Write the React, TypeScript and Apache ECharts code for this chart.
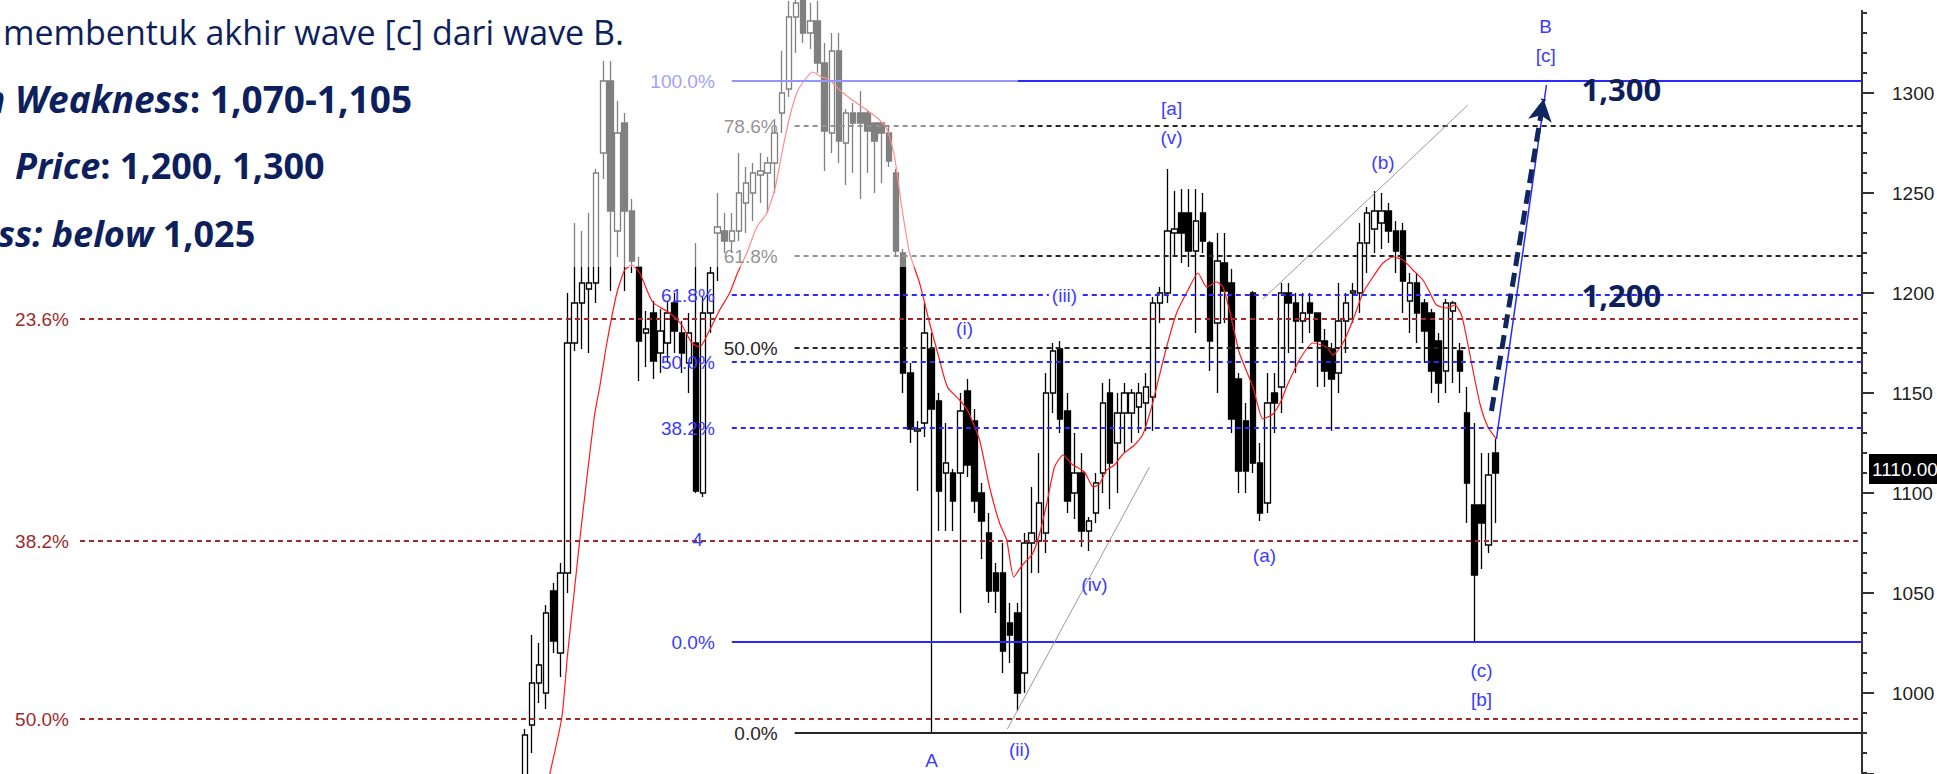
import React, { useEffect, useRef } from "react";
import * as echarts from "echarts";

// ---------- DATA ----------
// candles: [open, close, low, high], one per bar
const candles: number[][] = [
  [955, 979, 945, 982], [984, 1005, 970, 1029], [1005, 1014, 995, 1025], [1000, 1040, 992, 1044],
  [1051, 1026, 1020, 1055], [1020, 1060, 1008, 1065], [1060, 1175, 1050, 1200], [1175, 1195, 1171, 1235],
  [1195, 1205, 1172, 1231], [1202, 1205, 1170, 1240], [1205, 1260, 1195, 1262], [1270, 1306, 1257, 1316],
  [1306, 1241, 1201, 1316], [1231, 1280, 1218, 1296], [1285, 1241, 1201, 1290], [1241, 1216, 1210, 1247],
  [1213, 1176, 1156, 1218], [1180, 1182, 1163, 1191], [1190, 1166, 1157, 1196], [1170, 1181, 1160, 1192],
  [1175, 1190, 1165, 1196], [1195, 1181, 1170, 1200], [1180, 1170, 1160, 1186], [1165, 1180, 1150, 1190],
  [1175, 1101, 1100, 1225], [1100, 1190, 1098, 1198], [1190, 1210, 1180, 1213], [1230, 1233, 1206, 1250],
  [1231, 1226, 1220, 1240], [1226, 1231, 1220, 1240], [1231, 1250, 1226, 1270], [1245, 1255, 1230, 1263],
  [1250, 1260, 1236, 1265], [1259, 1261, 1245, 1270], [1260, 1265, 1240, 1268], [1265, 1280, 1250, 1287],
  [1290, 1300, 1280, 1321], [1302, 1338, 1298, 1346], [1338, 1345, 1320, 1350], [1352, 1330, 1325, 1355],
  [1330, 1336, 1322, 1345], [1336, 1315, 1310, 1346], [1315, 1281, 1261, 1325], [1280, 1321, 1270, 1330],
  [1321, 1276, 1265, 1330], [1275, 1290, 1254, 1292], [1290, 1285, 1260, 1295], [1290, 1285, 1247, 1301],
  [1290, 1281, 1260, 1291], [1285, 1276, 1250, 1285], [1285, 1280, 1255, 1285], [1280, 1266, 1263, 1283],
  [1260, 1221, 1218, 1262], [1220, 1160, 1150, 1222], [1160, 1132, 1125, 1165], [1131, 1132, 1101, 1136],
  [1135, 1180, 1128, 1195], [1172, 1142, 980, 1180], [1146, 1101, 1081, 1150], [1110, 1115, 1081, 1135],
  [1110, 1096, 1081, 1112], [1110, 1141, 1040, 1150], [1151, 1114, 1108, 1157], [1136, 1096, 1090, 1142],
  [1100, 1086, 1067, 1105], [1080, 1051, 1045, 1090], [1060, 1051, 1040, 1065], [1060, 1021, 1010, 1075],
  [1035, 1029, 1015, 1045], [1040, 1000, 991, 1045], [1010, 1075, 1000, 1080], [1075, 1080, 1060, 1103],
  [1076, 1095, 1060, 1120], [1080, 1150, 1070, 1160], [1150, 1171, 1140, 1175], [1172, 1137, 1130, 1176],
  [1141, 1096, 1090, 1150], [1100, 1110, 1087, 1130], [1110, 1081, 1073, 1120], [1081, 1086, 1071, 1088],
  [1090, 1105, 1085, 1110], [1110, 1145, 1100, 1155], [1150, 1115, 1092, 1157], [1125, 1140, 1100, 1150],
  [1140, 1150, 1120, 1155], [1140, 1150, 1125, 1152], [1143, 1150, 1130, 1155], [1145, 1153, 1131, 1160],
  [1148, 1195, 1131, 1198], [1195, 1200, 1185, 1203], [1200, 1231, 1195, 1262], [1230, 1232, 1218, 1251],
  [1240, 1230, 1215, 1252], [1240, 1221, 1213, 1252], [1221, 1236, 1180, 1252], [1240, 1226, 1220, 1250],
  [1225, 1176, 1161, 1226], [1185, 1216, 1150, 1230], [1215, 1201, 1185, 1230], [1205, 1137, 1130, 1212],
  [1157, 1111, 1100, 1160], [1136, 1111, 1100, 1145], [1200, 1115, 1110, 1201], [1115, 1090, 1086, 1125],
  [1095, 1145, 1090, 1160], [1150, 1145, 1130, 1160], [1153, 1200, 1140, 1205], [1200, 1195, 1170, 1205],
  [1195, 1186, 1160, 1200], [1186, 1190, 1175, 1200], [1195, 1190, 1180, 1200], [1190, 1176, 1153, 1190],
  [1176, 1161, 1153, 1182], [1172, 1157, 1131, 1175], [1160, 1186, 1150, 1205], [1186, 1195, 1170, 1200],
  [1200, 1201, 1185, 1205], [1200, 1225, 1190, 1235], [1225, 1240, 1210, 1243], [1232, 1241, 1220, 1251],
  [1235, 1241, 1222, 1250], [1241, 1231, 1225, 1245], [1231, 1221, 1210, 1236], [1231, 1206, 1190, 1235],
  [1196, 1205, 1180, 1210], [1205, 1190, 1175, 1210], [1195, 1181, 1165, 1197], [1190, 1161, 1150, 1192],
  [1176, 1155, 1145, 1180], [1161, 1195, 1150, 1197], [1191, 1195, 1155, 1196], [1171, 1161, 1150, 1175],
  [1140, 1105, 1085, 1153], [1094, 1059, 1025, 1135], [1094, 1085, 1062, 1120], [1074, 1109, 1070, 1120],
  [1120, 1110, 1085, 1127],
];

// moving average (red), read as [bar position, value]
const maPoints: number[][] = [
  [3.5, 959.5], [5.2, 988], [6.0, 1019.5], [7.0, 1053], [7.7, 1076.5], [8.8, 1110.5], [9.8, 1139.5],
  [10.5, 1153], [11.5, 1175], [12.9, 1200], [14.0, 1211.5], [15.0, 1214], [16.1, 1210], [17.9, 1195.5],
  [20.3, 1190], [22.0, 1184], [23.4, 1175], [24.5, 1173], [25.9, 1181.5], [27.3, 1191.5], [28.7, 1200],
  [29.8, 1210], [31.1, 1220], [32.5, 1233], [33.9, 1240], [35.0, 1251.5], [36.1, 1271.5], [37.1, 1288],
  [38.1, 1300], [39.2, 1306.5], [40.3, 1310.5], [41.6, 1308], [42.7, 1306.5], [44.1, 1301.5], [45.5, 1297.5],
  [47.9, 1291.5], [49.7, 1286.5], [50.8, 1281.5], [51.8, 1268], [52.8, 1243], [53.9, 1220], [55.3, 1205],
  [56.7, 1185], [58.1, 1166.5], [59.2, 1153], [60.9, 1146.5], [62.0, 1141.5], [63.7, 1126.5], [65.1, 1103],
  [66.5, 1085], [67.5, 1076.5], [68.5, 1058], [69.7, 1064], [71.1, 1069.5], [72.1, 1079.5], [73.1, 1094.5],
  [74.2, 1113], [75.4, 1119], [76.6, 1114.5], [78.4, 1110.5], [79.6, 1103], [80.5, 1104.5], [81.5, 1111.5],
  [82.6, 1114], [83.8, 1119.5], [85.4, 1124], [86.6, 1129.5], [87.8, 1143], [88.5, 1153], [89.9, 1173],
  [91.3, 1190], [92.9, 1201.5], [94.3, 1210], [95.5, 1203], [96.9, 1205.5], [97.8, 1203], [98.7, 1191.5],
  [100.1, 1170], [102.0, 1153], [103.4, 1137], [104.8, 1139.5], [106.0, 1146.5], [106.7, 1153], [108.5, 1166.5],
  [110.4, 1175], [112.3, 1173], [113.2, 1169], [114.6, 1175], [116.0, 1186.5], [117.4, 1200], [118.8, 1208],
  [120.2, 1215], [121.6, 1218], [123.0, 1216.5], [124.4, 1211.5], [125.8, 1206.5], [126.8, 1200], [127.7, 1194],
  [129.1, 1192.5], [130.3, 1194], [131.2, 1189], [131.9, 1178], [132.8, 1161.5], [133.8, 1144.5], [134.9, 1133],
  [136.1, 1127],
];

// Fibonacci levels
const blueFibValues = [1306, 1199, 1165.5, 1132.5, 1025.5];
const blueFibLabels = ["100.0%", "61.8%", "50.0%", "38.2%", "0.0%"];
const blueFibSolid = [true, false, false, false, true];
const blueFibStart = 29;

const blackFibValues = [1283.5, 1218.5, 1172.5, 980];
const blackFibLabels = ["78.6%", "61.8%", "50.0%", "0.0%"];
const blackFibSolid = [false, false, false, true];
const blackFibStart = 37.8;

const redFibValues = [1187, 1076, 987];
const redFibLabels = ["23.6%", "38.2%", "50.0%"];
const redFibStart = -62.3;

// wave labels
const waveNames = ["B", "[c]", "[a]", "(v)", "(b)", "(iii)", "(i)", "4", "(iv)", "(a)", "(c)", "[b]", "A", "(ii)"];
const wavePoints: number[][] = [
  [143, 1333.5], [143, 1319], [90.6, 1292.5], [90.6, 1278], [120.2, 1265.5], [75.6, 1199], [61.6, 1182.5],
  [24.2, 1077], [79.8, 1054.5], [103.6, 1069], [134, 1011.5], [134, 997], [57, 966.5], [69.3, 972],
];

// trend channel lines
const trendLines: number[][][] = [
  [[67.6, 982], [87.5, 1113]],
  [[103.4, 1197], [132.1, 1294]],
];
// projected path to wave B
const waveLine: number[][] = [[136.1, 1127], [143.1, 1304]];
const projectionArrow: number[][] = [[135.4, 1141], [142.7, 1297]];

// targets written on the chart
const targetNames = ["1,300", "1,200"];
const targetPoints: number[][] = [[153.6, 1302], [153.6, 1199]];

const lastClose = 1110;
const lastCloseText = "1110.000";

// ---------- LAYOUT / STYLE ----------
const X_MIN = -73.5;
const X_MAX = 187.3;
const Y_MIN = 959.5;
const Y_MAX = 1346.5;
const navy = "#0d1f5c";
const chartFont = '"Liberation Sans", Arial, sans-serif';
const blue = "#2a2aff";
const blueText = "#3c3cff";
const darkRed = "#a02a2a";
const black = "#262626";

function fibLines(values: number[], labels: string[], solid: boolean[] | null, start: number, color: string, labelColor: string, dist: number) {
  return values.map((v, k) => [
    {
      coord: [start, v],
      lineStyle: { color, width: 2, type: solid && solid[k] ? "solid" : [5, 4] },
      label: {
        show: true, position: "start", distance: dist, formatter: labels[k],
        color: labelColor, fontFamily: chartFont, fontSize: 19,
      },
    },
    { coord: [X_MAX, v] },
  ]);
}

const boldRich = (size: number) => ({
  i: { fill: navy, fontFamily: "Open Sans", fontSize: size, fontWeight: "bold", fontStyle: "italic" },
  b: { fill: navy, fontFamily: "Open Sans", fontSize: size, fontWeight: "bold" },
});

export default function App() {
  const ref = useRef<HTMLDivElement>(null);
  useEffect(() => {
    document.body.style.margin = "0";
    const chart = echarts.init(ref.current!, null, { renderer: "svg" });

    const markLineData: any[] = [
      ...fibLines(redFibValues, redFibLabels, null, redFibStart, darkRed, darkRed, 11),
      ...fibLines(blackFibValues, blackFibLabels, blackFibSolid, blackFibStart, black, black, 17),
      ...fibLines(blueFibValues, blueFibLabels, blueFibSolid, blueFibStart, blue, blueText, 17),
      ...trendLines.map((t) => [
        { coord: t[0], lineStyle: { color: "#9a9a9a", width: 1, type: "solid" }, label: { show: false } },
        { coord: t[1] },
      ]),
      [
        { coord: waveLine[0], lineStyle: { color: blue, width: 1.5, type: "solid" }, label: { show: false } },
        { coord: waveLine[1] },
      ],
      [
        {
          coord: projectionArrow[0], symbol: "none",
          lineStyle: { color: "#10265e", width: 5, type: [14, 7] }, label: { show: false },
        },
        { coord: projectionArrow[1], symbol: "arrow", symbolSize: [18, 22] },
      ],
    ];

    const markPointData: any[] = [
      ...waveNames.map((n, k) => ({
        name: n,
        coord: wavePoints[k],
        label: {
          show: true, position: "inside", formatter: n, color: blueText, fontFamily: chartFont, fontSize: 19,
          backgroundColor: n === "(iii)" || n === "(a)" ? "#fff" : "transparent",
          padding: n === "(a)" ? [6, 3, 0, 3] : [0, 3],
        },
      })),
      ...targetNames.map((n, k) => ({
        name: n,
        coord: targetPoints[k],
        label: {
          show: true, position: "inside", formatter: n, color: navy,
          fontFamily: "Open Sans", fontWeight: "bold", fontSize: 31,
        },
      })),
    ];

    const graphics: any[] = [
      {
        type: "rect", z: 50, silent: true,
        shape: { x: 560, y: 0, width: 458, height: 267 },
        style: { fill: "rgba(255,255,255,0.5)" },
      },
      {
        type: "rect", z: 60, silent: true,
        shape: { x: 1850, y: 0, width: 30, height: 10 },
        style: { fill: "#fff" },
      },
      {
        type: "text", z: 100, x: 3, y: 32,
        style: {
          text: "membentuk akhir wave [c] dari wave B.",
          fill: navy, fontFamily: "Open Sans", fontSize: 34, verticalAlign: "middle",
        },
      },
      {
        type: "text", z: 100, x: -17, y: 98,
        style: { text: "{i|n Weakness}{b|: 1,070-1,105}", verticalAlign: "middle", rich: boldRich(37) },
      },
      {
        type: "text", z: 100, x: 15, y: 165,
        style: { text: "{i|Price}{b|: 1,200, 1,300}", verticalAlign: "middle", rich: boldRich(36) },
      },
      {
        type: "text", z: 100, x: -2, y: 233,
        style: { text: "{i|ss: below}{b| 1,025}", verticalAlign: "middle", rich: boldRich(36) },
      },
    ];

    const option: any = {
      animation: false,
      backgroundColor: "#fff",
      grid: { left: 0, right: 75, top: 0, bottom: 0, containLabel: false, outerBoundsMode: "none" },
      xAxis: { type: "value", min: X_MIN, max: X_MAX, show: false },
      yAxis: {
        type: "value", position: "right", min: Y_MIN, max: Y_MAX, splitNumber: 8,
        minInterval: 50, maxInterval: 50,
        axisLine: { show: true, onZero: false, lineStyle: { color: "#333", width: 2 } },
        axisTick: { show: true, inside: false, length: 12, lineStyle: { color: "#333", width: 2 } },
        minorTick: { show: true, splitNumber: 5, length: 5, lineStyle: { color: "#333", width: 2 } },
        splitLine: { show: false },
        axisLabel: {
          show: true, margin: 30, color: "#222", fontFamily: chartFont, fontSize: 19,
          showMinLabel: false, showMaxLabel: false,
          formatter: (v: number) => String(v),
        },
      },
      series: [
        {
          type: "candlestick",
          data: candles.map((c, i) => [i, c[0], c[1], c[2], c[3]]),
          encode: { x: 0, y: [1, 2, 3, 4] },
          barWidth: 6,
          itemStyle: {
            color: "#ffffff", color0: "#000000",
            borderColor: "#000000", borderColor0: "#000000", borderColorDoji: "#000000",
            borderWidth: 1.3,
          },
          z: 2,
        },
        {
          type: "line",
          data: maPoints,
          symbol: "none",
          smooth: 0.2,
          lineStyle: { color: "#ff1a1a", width: 1.2 },
          z: 3,
        },
        {
          type: "line",
          data: [],
          z: 4,
          markLine: { silent: true, symbol: ["none", "none"], animation: false, data: markLineData },
          markPoint: {
            silent: true, symbol: "rect", symbolSize: 1, animation: false,
            itemStyle: { color: "rgba(0,0,0,0)" },
            data: markPointData,
          },
        },
      ],
      graphic: graphics,
    };
    chart.setOption(option);

    // last-price tag on the price axis, placed through the axis scale
    const yTag = chart.convertToPixel({ yAxisIndex: 0 }, lastClose) as number;
    const axisRight = 1937 - 75;
    chart.setOption({
      graphic: [
        ...graphics,
        {
          type: "rect", z: 70, silent: true,
          shape: { x: axisRight + 7, y: yTag - 19, width: 80, height: 30 },
          style: { fill: "#000" },
        },
        {
          type: "text", z: 71, silent: true, x: axisRight + 10, y: yTag - 4,
          style: { text: lastCloseText, fill: "#fff", fontFamily: chartFont, fontSize: 19, verticalAlign: "middle" },
        },
      ],
    });
    return () => chart.dispose();
  }, []);
  return (
    <div
      ref={ref}
      style={{ position: "absolute", left: 0, top: 0, width: 1937, height: 774, background: "#fff" }}
    />
  );
}
